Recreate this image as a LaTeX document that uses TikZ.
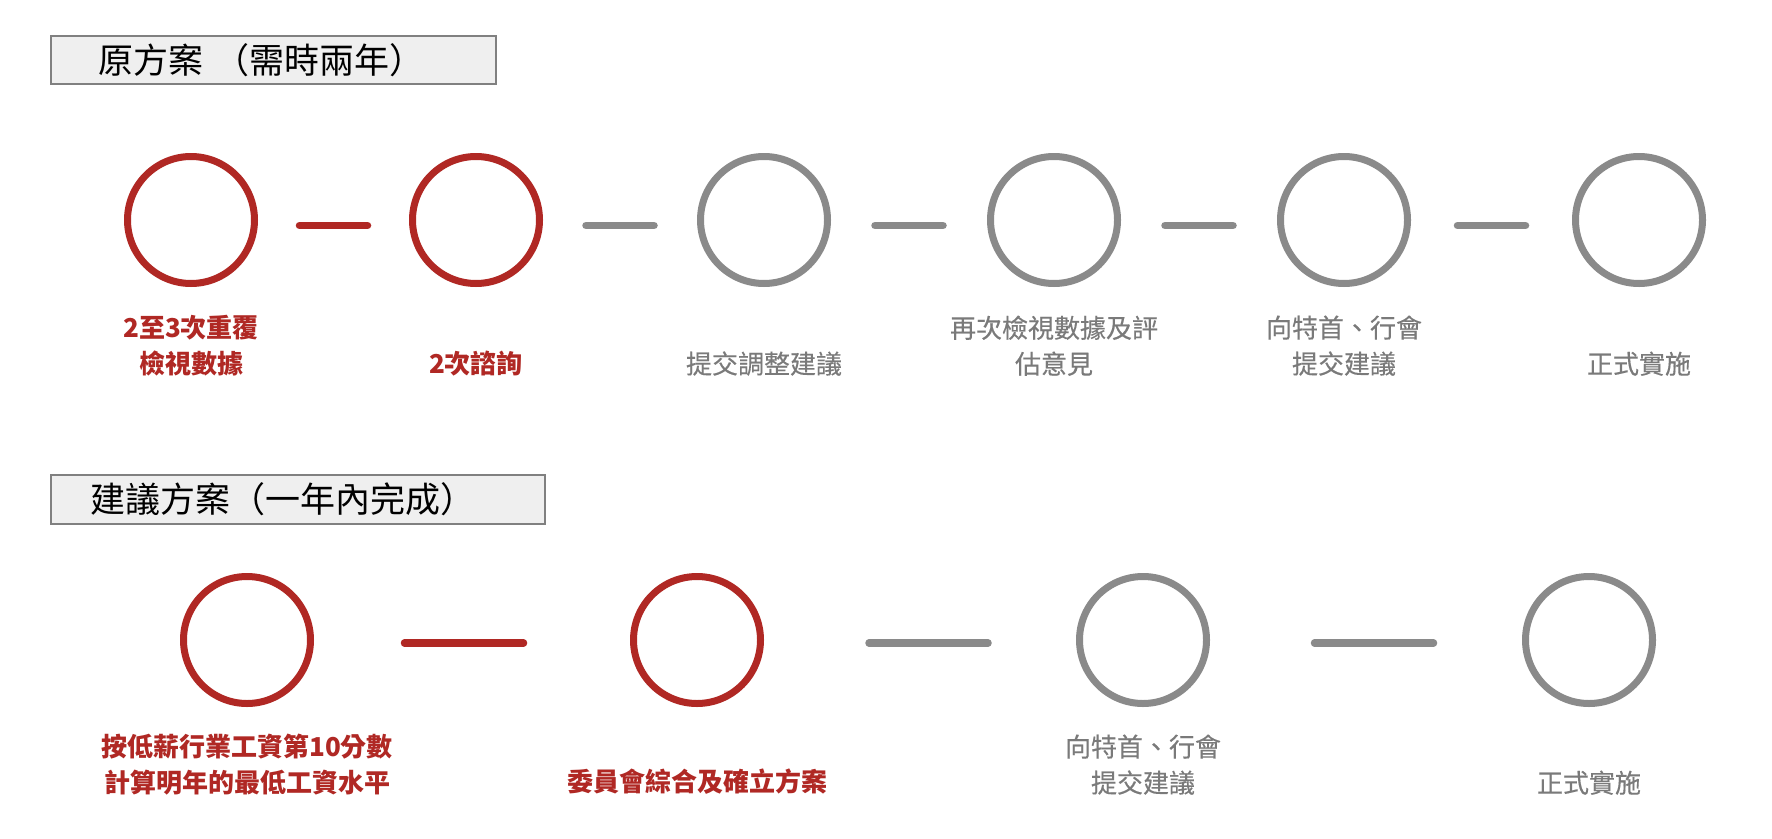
\documentclass[tikz,border=0pt]{standalone}
\usepackage{fontspec}
\newfontfamily\cjk{Noto Sans CJK TC}
\newfontfamily\cjkmed{Noto Sans CJK TC}[FakeBold=0.35]
\usetikzlibrary{calc}
\definecolor{myred}{RGB}{176,40,36}
\definecolor{mygray}{RGB}{138,138,138}
\definecolor{txtgray}{RGB}{122,122,122}
\definecolor{boxfill}{RGB}{239,239,239}
\definecolor{boxline}{RGB}{128,128,128}
\begin{document}
\begin{tikzpicture}[x=1pt,y=-1pt,
  stepred/.style={circle, draw=myred, line width=7pt, minimum size=127pt, inner sep=0pt},
  stepgray/.style={stepred, draw=mygray},
  connred/.style={draw=myred, line width=7.5pt, line cap=round},
  conngray/.style={connred, draw=mygray},
  labred/.style={font=\cjk\bfseries\fontsize{26}{36}\selectfont, text=myred, align=center, inner sep=0pt, anchor=south},
  labgray/.style={labred, font=\cjkmed\fontsize{26}{36}\selectfont, text=txtgray},
  titlebox/.style={draw=boxline, fill=boxfill, line width=1.5pt, inner xsep=0pt, inner ysep=0pt, align=left, font=\cjk\fontsize{35}{40}\selectfont, text=black}
]
\path[fill=white] (0,0) rectangle (1772,838);
\useasboundingbox (0,0) rectangle (1772,838);

% titles
\node[titlebox, minimum width=445pt, minimum height=48pt, text width=351pt] (t1) at (273.5,60) {原方案\hspace{12pt}（需時兩年）};
\node[titlebox, minimum width=494pt, minimum height=49pt, text width=416pt] (t2) at (298,499.5) {建議方案（一年內完成）};

% top row
\node[stepred]  (a1) at (191,220) {};
\node[stepred]  (a2) at (476,220) {};
\node[stepgray] (a3) at (764,220) {};
\node[stepgray] (a4) at (1054,220) {};
\node[stepgray] (a5) at (1344,220) {};
\node[stepgray] (a6) at (1639,220) {};

\draw[connred]  ($(a1)!0.5!(a2)+(-34,5.5)$) -- ($(a1)!0.5!(a2)+(34,5.5)$);
\draw[conngray] ($(a2)!0.5!(a3)+(-34,5.5)$) -- ($(a2)!0.5!(a3)+(34,5.5)$);
\draw[conngray] ($(a3)!0.5!(a4)+(-34,5.5)$) -- ($(a3)!0.5!(a4)+(34,5.5)$);
\draw[conngray] ($(a4)!0.5!(a5)+(-34,5.5)$) -- ($(a4)!0.5!(a5)+(34,5.5)$);
\draw[conngray] ($(a5)!0.5!(a6)+(-34,5.5)$) -- ($(a5)!0.5!(a6)+(34,5.5)$);

\node[labred]  (la1) at (191,376)  {2至3次重覆\\檢視數據};
\node[labred]  (la2) at (476,376)  {2次諮詢};
\node[labgray] (la3) at (764,376)  {提交調整建議};
\node[labgray] (la4) at (1054,376) {再次檢視數據及評\\估意見};
\node[labgray] (la5) at (1344,376) {向特首、行會\\提交建議};
\node[labgray] (la6) at (1639,376) {正式實施};

% bottom row
\node[stepred]  (b1) at (247,640) {};
\node[stepred]  (b2) at (697,640) {};
\node[stepgray] (b3) at (1143,640) {};
\node[stepgray] (b4) at (1589,640) {};

\draw[connred]  ($(b1)!0.5!(b2)+(-67.5,3)$) -- ($(b1)!0.5!(b2)+(51.5,3)$);
\draw[conngray] ($(b2)!0.5!(b3)+(-51,3)$) -- ($(b2)!0.5!(b3)+(68,3)$);
\draw[conngray] ($(b3)!0.5!(b4)+(-51.5,3)$) -- ($(b3)!0.5!(b4)+(67.5,3)$);

\node[labred]  (lb1) at (247,795)  {按低薪行業工資第10分數\\計算明年的最低工資水平};
\node[labred]  (lb2) at (697,795)  {委員會綜合及確立方案};
\node[labgray] (lb3) at (1143,795) {向特首、行會\\提交建議};
\node[labgray] (lb4) at (1589,795) {正式實施};
\end{tikzpicture}
\end{document}
